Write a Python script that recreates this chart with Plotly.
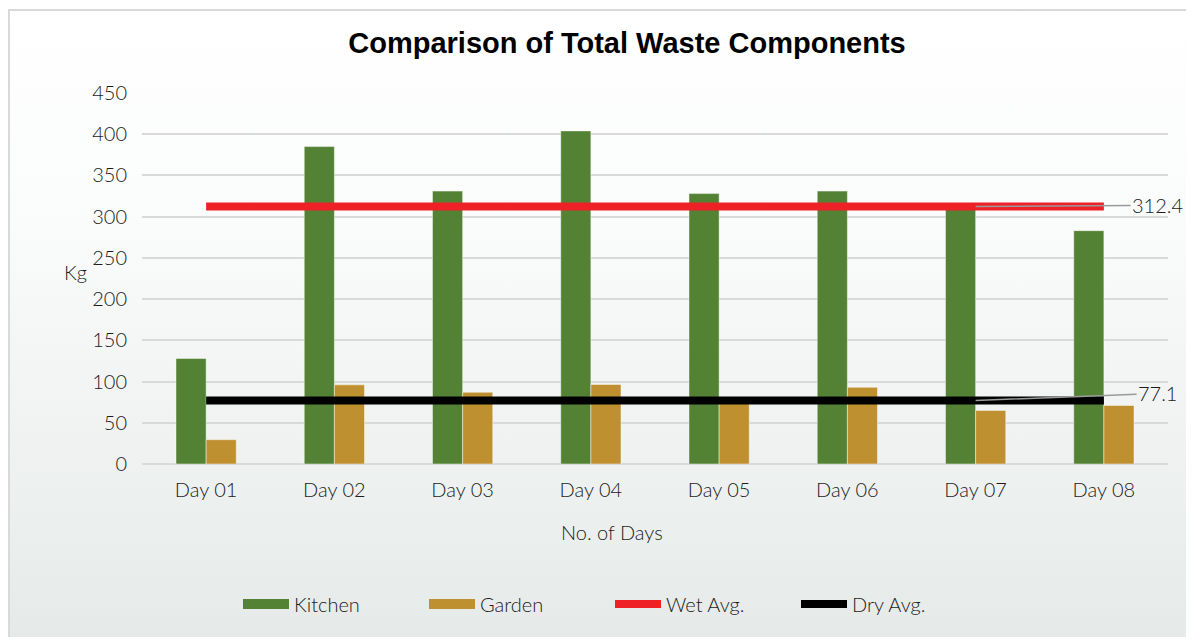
import base64
import plotly.graph_objects as go

days = ["Day 01", "Day 02", "Day 03", "Day 04", "Day 05", "Day 06", "Day 07", "Day 08"]
kitchen = [128, 385, 331, 404, 328, 331, 309, 283]
garden = [29.5, 96, 87, 96.5, 78, 93, 65, 71]
wet_avg = 312.4
dry_avg = 77.1
y_ticks = [0, 50, 100, 150, 200, 250, 300, 350, 400, 450]

FONT = "Lato"
TXT = "#1c1c1c"
GREEN = "#548235"
GOLD = "#BF9030"

fig = go.Figure()
fig.add_trace(go.Bar(name="Kitchen", x=days, y=kitchen, marker_color=GREEN, showlegend=False,
                     legendgroup="k", marker_line=dict(color="rgba(255,255,255,0.45)", width=1)))
fig.add_trace(go.Bar(name="Garden", x=days, y=garden, marker_color=GOLD, showlegend=False,
                     legendgroup="g", marker_line=dict(color="rgba(255,255,255,0.45)", width=1)))
# legend swatches for the bar series
fig.add_trace(go.Scatter(name="Kitchen", x=[None], y=[None], mode="lines", legendgroup="k",
                         line=dict(color=GREEN, width=16)))
fig.add_trace(go.Scatter(name="Garden", x=[None], y=[None], mode="lines", legendgroup="g",
                         line=dict(color=GOLD, width=16)))
fig.add_trace(go.Scatter(name="Wet Avg.", x=days, y=[wet_avg] * len(days), mode="lines",
                         line=dict(color="#EE2226", width=8)))
fig.add_trace(go.Scatter(name="Dry Avg.", x=days, y=[dry_avg] * len(days), mode="lines",
                         line=dict(color="#000000", width=8)))

# background gradient
svg = ('<svg xmlns="http://www.w3.org/2000/svg" width="100" height="100" preserveAspectRatio="none">'
       '<defs><linearGradient id="g" x1="0" y1="0" x2="0" y2="1">'
       '<stop offset="0" stop-color="#ffffff"/><stop offset="0.35" stop-color="#fafbfb"/>'
       '<stop offset="1" stop-color="#e5eae8"/></linearGradient></defs>'
       '<rect width="100" height="100" fill="url(#g)"/></svg>')
src = "data:image/svg+xml;base64," + base64.b64encode(svg.encode()).decode()

W, H = 1194, 637
OFF = 8  # page body margin
# target plot area in page pixels: x 142..1168, y 93..464
L, T = 142 - OFF, 93 - OFF
R = W - (1168 - OFF)
B = H - (464 - OFF)
pw, ph = W - L - R, H - T - B


def px(x):
    """page pixel x -> paper x"""
    return (x - OFF - L) / pw


def py(y):
    """page pixel y -> paper y"""
    return (H - B - (y - OFF)) / ph


fig.update_layout(
    width=W, height=H,
    margin=dict(l=L, r=R, t=T, b=B, autoexpand=False),
    paper_bgcolor="white",
    plot_bgcolor="rgba(0,0,0,0)",
    barmode="group",
    bargap=0.53,
    bargroupgap=0,
    font=dict(family=FONT, size=20, color=TXT, weight=300),
    title=dict(text="<b>Comparison of Total Waste Components</b>",
               font=dict(family="Liberation Sans Narrow, Arial Narrow, Nimbus Sans Narrow, Liberation Sans, sans-serif",
                         size=29, color="#000000"),
               x=(627 - OFF) / W, xanchor="center", y=1 - (43 - OFF) / H, yanchor="middle"),
    images=[dict(source=src, xref="paper", yref="paper", x=px(OFF), y=py(OFF),
                 sizex=W / pw, sizey=H / ph, sizing="stretch", layer="below",
                 xanchor="left", yanchor="top")],
    xaxis=dict(range=[-0.5, len(days) - 0.5], autorange=False, showgrid=False, showline=False,
               ticks="", ticklabelstandoff=12, automargin=False,
               tickfont=dict(size=20, color=TXT, family=FONT, weight=300)),
    yaxis=dict(range=[0, 450], autorange=False, tickvals=y_ticks, showgrid=True, gridcolor="#d9d9d9",
               gridwidth=1.5, zeroline=True, zerolinecolor="#d9d9d9", zerolinewidth=1.5,
               showline=False, ticks="", ticklabelstandoff=14, automargin=False,
               tickfont=dict(size=20, color=TXT, family=FONT, weight=300)),
    legend=dict(orientation="h", x=px(238), xanchor="left", y=py(604), yanchor="middle",
                entrywidth=125, entrywidthmode="pixels", itemwidth=46,
                font=dict(size=20, color=TXT, family=FONT, weight=300), bgcolor="rgba(0,0,0,0)"),
    shapes=[dict(type="rect", xref="paper", yref="paper", x0=px(9), x1=px(1215),
                 y0=py(670), y1=py(10), line=dict(color="#d9d9d9", width=2),
                 fillcolor="rgba(0,0,0,0)", layer="above")],
    annotations=[
        dict(text="Kg", xref="paper", yref="paper", x=px(62), y=py(272),
             showarrow=False, font=dict(size=20, color=TXT, family=FONT, weight=300)),
        dict(text="No. of Days", xref="paper", yref="paper", x=px(612), y=py(546),
             showarrow=False, font=dict(size=20, color=TXT, family=FONT, weight=300)),
        dict(text=f"{wet_avg}", x="Day 07", y=wet_avg, xref="x", yref="y",
             showarrow=True, arrowhead=0, arrowwidth=1.5, arrowcolor="#9a9a9a",
             ax=182, ay=-1, font=dict(size=20, color=TXT, family=FONT, weight=300)),
        dict(text=f"{dry_avg}", x="Day 07", y=dry_avg, xref="x", yref="y",
             showarrow=True, arrowhead=0, arrowwidth=1.5, arrowcolor="#9a9a9a",
             ax=182, ay=-7, font=dict(size=20, color=TXT, family=FONT, weight=300)),
    ],
)

fig.write_html("out.html")
